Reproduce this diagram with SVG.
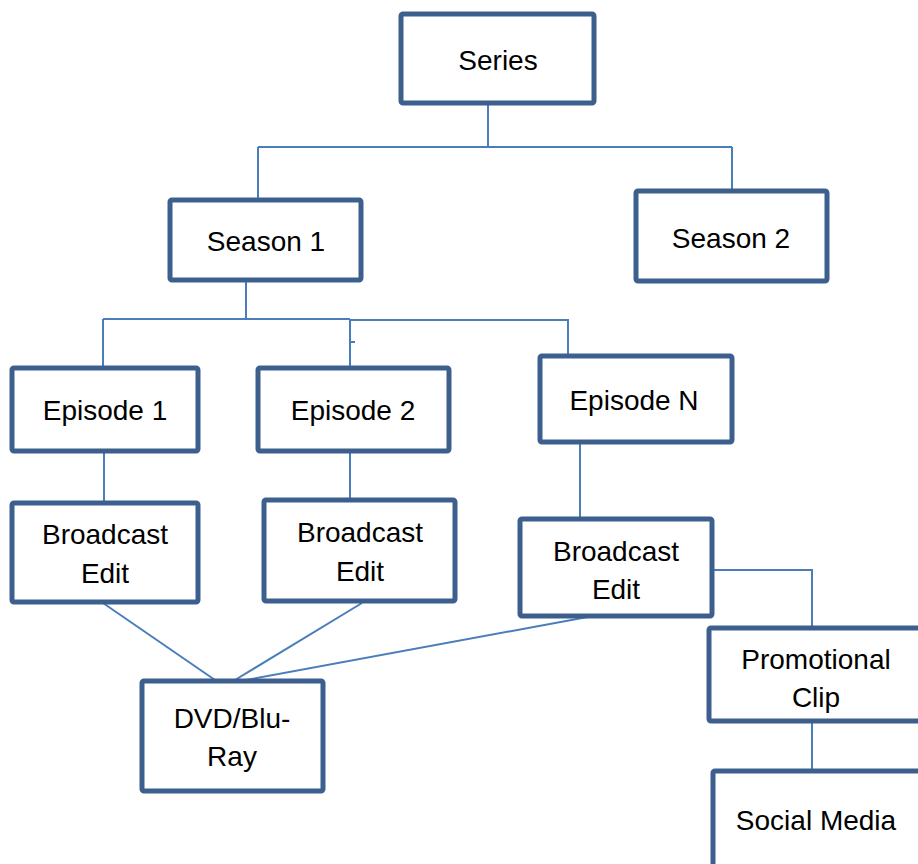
<svg xmlns="http://www.w3.org/2000/svg" width="918" height="864" viewBox="0 0 918 864">
<style>
.box{fill:#ffffff;stroke:#3c5f8e;stroke-width:5;stroke-linejoin:round}
.lbl{font-family:"Liberation Sans",Arial,sans-serif;font-size:28px;fill:#000;text-anchor:middle}
.con{fill:none;stroke:#4a7ebb;stroke-width:2}
</style>
<rect width="918" height="864" fill="#ffffff"/>
<g id="connectors">
<path class="con" d="M488,100 V148 M258,147 H732 M258,147 V205 M732,147 V191"/>
<path class="con" d="M246,282 V319 M103,319 H350 M103,319 V368 M350,319 V368 M350,320 H568 V356 M350,342 H355"/>
<path class="con" d="M104,451 V503 M350,451 V500 M580,442 V519"/>
<path class="con" d="M712,570 H812 V628 M812,721 V771"/>
<path class="con" d="M103,603 L215,680 M362,603 L235,680 M593,616 L246,680"/>
</g>
<g id="series"><rect class="box" x="401" y="14" width="193" height="89" rx="2"/><text class="lbl" x="498" y="70">Series</text></g>
<g id="season1"><rect class="box" x="170" y="200" width="191" height="80" rx="2"/><text class="lbl" x="266" y="251">Season 1</text></g>
<g id="season2"><rect class="box" x="636" y="191" width="191" height="90" rx="2"/><text class="lbl" x="731" y="248">Season 2</text></g>
<g id="episode1"><rect class="box" x="12" y="368" width="186" height="83" rx="2"/><text class="lbl" x="105" y="420">Episode 1</text></g>
<g id="episode2"><rect class="box" x="258" y="368" width="191" height="83" rx="2"/><text class="lbl" x="353" y="420">Episode 2</text></g>
<g id="episodeN"><rect class="box" x="540" y="356" width="192" height="86" rx="2"/><text class="lbl" x="634" y="410">Episode N</text></g>
<g id="broadcast1"><rect class="box" x="12" y="503" width="186" height="99" rx="2"/><text class="lbl" x="105" y="544">Broadcast</text><text class="lbl" x="105" y="583">Edit</text></g>
<g id="broadcast2"><rect class="box" x="264" y="500" width="191" height="101" rx="2"/><text class="lbl" x="360" y="542">Broadcast</text><text class="lbl" x="360" y="581">Edit</text></g>
<g id="broadcastN"><rect class="box" x="520" y="519" width="192" height="97" rx="2"/><text class="lbl" x="616" y="561">Broadcast</text><text class="lbl" x="616" y="599">Edit</text></g>
<g id="dvd"><rect class="box" x="142" y="681" width="181" height="110" rx="2"/><text class="lbl" x="232" y="728">DVD/Blu-</text><text class="lbl" x="232" y="766">Ray</text></g>
<g id="promo"><rect class="box" x="709" y="628" width="230" height="93" rx="2"/><text class="lbl" x="816" y="669">Promotional</text><text class="lbl" x="816" y="707">Clip</text></g>
<g id="social"><rect class="box" x="713" y="771" width="230" height="120" rx="2"/><text class="lbl" x="816" y="830">Social Media</text></g>
</svg>
